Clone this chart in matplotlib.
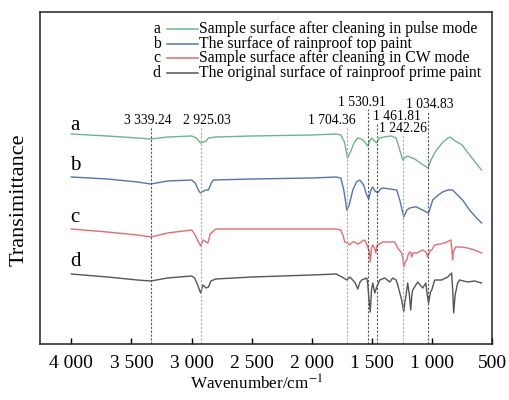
import matplotlib
matplotlib.use("Agg")
import matplotlib.pyplot as plt
import numpy as np

plt.rcParams["font.family"] = ["Liberation Serif", "DejaVu Serif"]
plt.rcParams["mathtext.fontset"] = "stix"

# spectra: wavenumber (cm-1) and relative transmittance (arbitrary units, stacked)
WN_A = [4000, 3700, 3450, 3339, 3200, 3000, 2960, 2925, 2900, 2880, 2860, 2800, 2500, 2000, 1800,
        1760, 1730, 1704, 1680, 1650, 1620, 1590, 1560, 1536, 1515, 1503, 1480, 1461, 1440, 1400,
        1340, 1300, 1275, 1245, 1220, 1204, 1170, 1146, 1110, 1088, 1060, 1034, 1010, 976, 918,
        870, 852, 830, 810, 780, 752, 702, 644, 590]
T_A = [210, 208, 206, 205, 207, 208, 206, 201, 202, 203, 206, 207, 208, 209, 210,
       209, 202, 186, 192, 201, 206, 205, 202, 198, 204, 206, 203, 201, 206, 207,
       208, 206, 196, 184, 187, 188, 186, 185, 182, 180, 178, 176, 184, 192, 201,
       206, 207, 205, 203, 201, 199, 191, 182, 174]

WN_B = [4000, 3700, 3450, 3339, 3200, 3000, 2970, 2940, 2925, 2900, 2880, 2860, 2840, 2820, 2500,
        2000, 1800, 1760, 1735, 1710, 1690, 1660, 1630, 1602, 1570, 1545, 1528, 1510, 1495, 1475,
        1453, 1430, 1411, 1350, 1295, 1270, 1237, 1210, 1187, 1150, 1129, 1100, 1079, 1050, 1030,
        996, 960, 914, 870, 831, 790, 748, 690, 632, 590]
T_B = [167, 165, 162, 160, 163, 164, 161, 153, 151, 153, 154, 154, 160, 164, 165,
       166, 167, 166, 154, 134, 139, 154, 162, 164, 159, 149, 145, 154, 157, 153,
       151, 155, 156, 155, 154, 144, 127, 134, 136, 137, 137, 135, 134, 132, 131,
       144, 148, 152, 154, 154, 149, 144, 134, 126, 121]

WN_C = [4000, 3700, 3450, 3339, 3200, 3000, 2980, 2950, 2925, 2905, 2880, 2865, 2845, 2800, 2500,
        2000, 1800, 1760, 1740, 1727, 1700, 1686, 1660, 1644, 1620, 1602, 1580, 1561, 1545, 1536,
        1522, 1515, 1505, 1494, 1480, 1469, 1460, 1453, 1411, 1370, 1312, 1287, 1254, 1245, 1237,
        1225, 1212, 1196, 1180, 1171, 1160, 1129, 1079, 1050, 1038, 1020, 1004, 980, 897, 845,
        835, 831, 825, 806, 756, 706, 648, 590]
T_C = [115, 112, 109, 107, 111, 114, 111, 104, 98, 104, 102, 101, 110, 115, 115,
       115, 115, 114, 108, 102, 101, 99, 102, 102, 100, 101, 103, 104, 100, 97,
       92, 82, 96, 99, 96, 91, 98, 99, 102, 102, 102, 96, 91, 86, 77,
       82, 84, 91, 92, 87, 91, 91, 94, 92, 87, 93, 94, 99, 101, 104,
       92, 84, 92, 97, 97, 96, 94, 91]

WN_D = [4000, 3700, 3450, 3339, 3200, 3000, 2975, 2950, 2925, 2905, 2880, 2860, 2840, 2800, 2500,
        2000, 1800, 1750, 1709, 1686, 1661, 1640, 1619, 1600, 1586, 1544, 1535, 1528, 1515, 1505,
        1494, 1478, 1461, 1436, 1395, 1353, 1329, 1300, 1287, 1254, 1237, 1225, 1220, 1204, 1190,
        1179, 1168, 1162, 1121, 1079, 1054, 1040, 1030, 1015, 1004, 980, 922, 872, 839, 830,
        822, 810, 789, 772, 706, 648, 590]
T_D = [70, 67, 64, 63, 66, 68, 66, 59, 51, 59, 56, 57, 63, 65, 67,
       69, 70, 67, 64, 67, 64, 61, 55, 62, 64, 66, 59, 47, 32, 54,
       61, 51, 57, 64, 66, 62, 66, 64, 59, 44, 32, 44, 47, 61, 49,
       34, 51, 54, 62, 56, 61, 48, 41, 52, 54, 64, 64, 67, 71, 54,
       31, 49, 61, 64, 62, 63, 61]

CURVE_TAGS = ["a", "b", "c", "d"]
LEGEND_TEXT = ["Sample surface after cleaning in pulse mode",
               "The surface of rainproof top paint",
               "Sample surface after cleaning in CW mode",
               "The original surface of rainproof prime paint"]
COLORS = ["#6cb58c", "#4f75b5", "#e66a6e", "#555555"]

PEAKS = [3339.24, 2925.03, 1704.36, 1530.91, 1461.81, 1242.26, 1034.83]
PEAK_LABELS = ["3 339.24", "2 925.03", "1 704.36", "1 530.91", "1 461.81", "1 242.26", "1 034.83"]
PEAK_COLORS = ["#555555", "#aaaaaa", "#aaaaaa", "#555555", "#555555", "#aaaaaa", "#555555"]
# layout of peak annotations (label x, label y, top of guide line)
PEAK_LABEL_X = [3362, 2873, 1834, 1585, 1295, 1245, 1018]
PEAK_LABEL_Y = [224, 224, 224, 241, 227, 216, 239]
PEAK_LINE_TOP = [217, 217, 217, 235, 220, 210, 232]

XTICKS = [4000, 3500, 3000, 2500, 2000, 1500, 1000, 500]
XTICK_LABELS = ["4 000", "3 500", "3 000", "2 500", "2 000", "1 500", "1 000", "500"]

fig = plt.figure(figsize=(5.1, 4.0), dpi=100)
fig.patch.set_facecolor("white")
ax = fig.add_axes([0.0775, 0.14, 0.888, 0.83])

for wn, t, c in zip([WN_A, WN_B, WN_C, WN_D], [T_A, T_B, T_C, T_D], COLORS):
    ax.plot(wn, t, color=c, lw=1.0)

for p, lab, c, lx, ly, top in zip(PEAKS, PEAK_LABELS, PEAK_COLORS, PEAK_LABEL_X, PEAK_LABEL_Y, PEAK_LINE_TOP):
    ax.plot([p, p], [0, top], color=c, lw=0.8, ls=(0, (2, 1.5)))
    ax.text(lx, ly, lab, ha="center", va="center", fontsize=9.8)

for tag, y in zip(CURVE_TAGS, [219, 179, 127, 82]):
    ax.text(3969, y, tag, ha="center", va="center", fontsize=15)

# legend drawn by hand: letter, short line, description
for i, (tag, txt, c) in enumerate(zip(CURVE_TAGS, LEGEND_TEXT, COLORS)):
    yf = (344 - (29 + 14.6 * i)) / 332
    ax.text(0.259, yf, tag, transform=ax.transAxes, ha="center", va="center", fontsize=11.3)
    ax.plot([0.281, 0.350], [yf, yf], transform=ax.transAxes, color=c, lw=1.1, clip_on=False)
    ax.text(0.352, yf, txt, transform=ax.transAxes, ha="left", va="center", fontsize=11.3)

ax.set_xlim(4264, 500)
ax.set_ylim(0, 332)
ax.set_xticks(XTICKS)
ax.set_xticklabels(XTICK_LABELS, fontsize=14)
ax.set_yticks([])
ax.tick_params(axis="x", direction="in", length=4, width=1, pad=8)
for s in ax.spines.values():
    s.set_linewidth(1.1)
    s.set_color("#222222")

ax.set_xlabel("Wavenumber/cm$^{-1}$", fontsize=12.3)
ax.xaxis.set_label_coords(0.48, -0.093)
ax.set_ylabel("Transimittance", fontsize=16)
ax.yaxis.set_label_coords(-0.025, 0.434)

fig.savefig("out.png", dpi=100)
